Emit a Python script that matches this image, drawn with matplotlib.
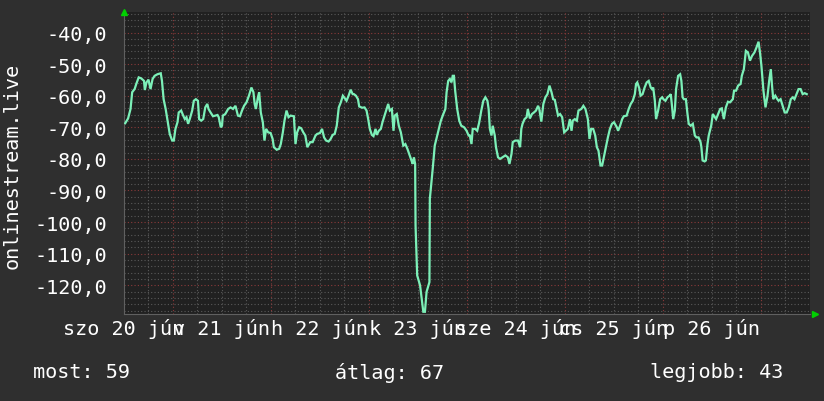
import matplotlib
matplotlib.use("Agg")
import matplotlib.pyplot as plt
import numpy as np

# ---- data (hours since Sat 20 Jun 00:00, value) ----
hours = [0.3, 1.0, 1.6, 2.0, 2.6, 3.0, 3.6, 4.2, 4.9, 5.1, 5.5, 6.0, 6.5, 7.0, 7.5, 8.2, 9.0, 9.3, 9.7, 10.2,
         10.8, 11.2, 11.8, 12.2, 12.6, 13.1, 13.4, 14.0, 14.5, 14.9, 15.3, 15.7, 16.1, 16.7, 17.1, 17.6, 18.1, 18.4, 18.9, 19.4,
         19.9, 20.4, 20.7, 21.2, 21.8, 22.4, 22.9, 23.2, 23.7, 24.0, 24.2, 24.8, 25.5, 26.1, 26.7, 27.3, 27.9, 28.4, 28.9, 29.4,
         30.0, 30.6, 31.2, 31.7, 32.0, 32.3, 32.8, 33.1, 33.5, 34.0, 34.4, 34.8, 35.3, 35.9, 36.4, 36.7, 37.4, 38.0, 38.4, 38.9,
         39.3, 39.8, 40.3, 40.8, 41.6, 42.0, 42.4, 42.9, 43.4, 43.9, 44.4, 44.9, 45.6, 46.2, 46.9, 47.3, 48.0, 48.5, 49.0, 49.5,
         50.1, 50.6, 51.1, 51.6, 52.1, 52.6, 53.1, 53.6, 53.9, 54.5, 55.0, 55.5, 56.0, 56.3, 56.8, 57.3, 57.6, 58.3, 58.9, 59.4,
         59.8, 60.2, 60.7, 61.1, 61.6, 61.9, 62.4, 62.9, 63.3, 63.8, 64.3, 64.7, 65.1, 65.6, 66.0, 66.3, 66.8, 67.3, 67.8, 68.4,
         68.9, 69.4, 69.9, 70.4, 70.7, 71.0, 71.3, 71.4, 71.8, 72.5, 72.9, 73.3, 73.7, 74.1, 74.8, 74.9, 75.6, 76.1, 76.9, 77.6,
         78.2, 78.7, 79.0, 79.4, 79.8, 80.2, 80.5, 80.8, 81.1, 81.6, 82.1, 82.6, 83.3, 83.9, 84.4, 84.7, 85.1, 85.4, 86.0, 86.5,
         87.0, 87.5, 88.0, 88.5, 89.0, 89.3, 89.6, 90.0, 90.3, 90.8, 91.1, 91.6, 92.1, 92.7, 93.4, 94.0, 94.4, 94.9, 95.2, 95.8,
         96.5, 97.0, 97.3, 97.6, 98.1, 98.6, 98.9, 99.4, 99.9, 100.4, 100.9, 101.4, 101.7, 102.2, 102.7, 103.2, 103.7, 104.2, 104.7, 105.1,
         105.5, 105.8, 106.3, 106.8, 107.3, 107.8, 108.2, 108.7, 109.2, 109.6, 109.9, 110.4, 110.9, 111.3, 112.0, 112.5, 113.0, 113.6, 114.0, 114.4,
         114.9, 115.4, 115.8, 116.2, 116.7, 117.1, 117.6, 118.0, 118.5, 119.0, 119.5, 120.0, 120.7, 121.0, 121.5, 122.0, 122.4, 123.1, 123.6, 124.1,
         124.6, 125.1, 125.4, 125.7, 126.2, 126.5, 127.0, 127.5, 128.0, 128.5, 129.0, 129.3, 129.6, 130.0, 130.3, 130.8, 131.3, 131.8, 132.1, 132.6,
         133.1, 133.6, 133.9, 134.2, 134.5, 134.9, 135.2, 135.7, 136.2, 136.5, 136.8, 137.1, 137.6, 138.0, 138.3, 138.8, 139.3, 139.8, 140.2, 140.7,
         141.2, 141.4, 141.7, 142.2, 142.5, 142.9, 143.2, 143.5, 143.8, 144.2, 144.7, 145.0, 145.5, 146.0, 146.4, 146.9, 147.4, 147.9, 148.4, 149.1,
         149.4, 149.9, 150.4, 151.0, 151.3, 151.8, 152.3, 152.8, 153.3, 153.8, 154.4, 154.9, 155.4, 155.8, 156.1, 156.6, 157.1, 157.6, 158.0, 158.4,
         158.7, 159.0, 159.5, 160.0, 160.3, 160.8, 161.3, 161.8, 162.3, 162.8, 163.3, 163.8, 164.2, 164.7, 165.2, 165.7, 166.2, 166.7, 167.2]

values = [-68.7, -67.2, -64.2, -58.9, -57.9, -56.3, -54.2, -54.5, -55.3, -58.2, -55.8, -54.9, -57.9, -54.7, -53.7, -53.2, -52.9, -55.3, -61.1, -64.2,
          -68.9, -72.1, -74.2, -74.2, -70.5, -68.4, -65.3, -64.7, -66.3, -67.4, -66.8, -68.9, -67.4, -64.7, -61.6, -61.1, -61.6, -67.4, -67.9, -67.4,
          -63.7, -62.6, -64.2, -65.3, -66.5, -66.3, -66.1, -66.8, -70.0, -69.5, -66.3, -65.8, -64.2, -63.7, -64.2, -63.2, -66.3, -66.5, -64.7, -63.2,
          -62.1, -60.0, -57.4, -58.9, -62.6, -64.2, -60.5, -58.9, -65.3, -68.4, -74.2, -70.5, -71.6, -71.8, -73.7, -76.3, -77.1, -76.8, -75.3, -71.6,
          -67.9, -64.7, -66.8, -66.3, -66.5, -75.3, -71.6, -70.0, -70.3, -71.6, -72.6, -76.3, -74.7, -74.7, -72.6, -72.1, -71.8, -70.5, -73.2, -74.2,
          -74.5, -73.7, -72.4, -72.1, -69.5, -63.7, -62.1, -60.0, -60.5, -61.6, -60.0, -58.1, -59.5, -59.5, -60.0, -61.1, -63.4, -63.8, -63.7, -64.7,
          -67.4, -70.5, -72.4, -72.8, -70.5, -72.4, -71.1, -70.5, -68.4, -66.3, -64.2, -62.6, -64.7, -64.2, -71.1, -66.3, -65.8, -69.5, -71.6, -75.8,
          -75.3, -76.8, -78.7, -80.5, -81.6, -79.5, -81.6, -101.1, -116.9, -120.0, -124.2, -128.4, -128.4, -122.1, -119.0, -92.6, -83.2, -75.8, -71.6, -67.9,
          -65.8, -64.2, -58.9, -55.3, -54.7, -55.8, -53.7, -53.7, -58.4, -64.2, -67.9, -69.5, -70.0, -71.1, -72.6, -72.6, -75.3, -70.5, -70.5, -71.1,
          -68.4, -64.7, -61.6, -60.5, -61.6, -64.2, -70.5, -72.6, -69.5, -72.6, -76.3, -79.5, -80.0, -79.5, -78.9, -79.5, -81.6, -78.4, -74.7, -74.2,
          -74.2, -76.3, -70.5, -68.9, -67.4, -66.8, -64.2, -67.2, -65.8, -65.3, -64.7, -63.2, -64.2, -68.2, -62.6, -60.5, -59.5, -56.8, -58.9, -61.1,
          -61.3, -63.2, -66.3, -65.8, -66.8, -71.6, -71.1, -70.5, -67.4, -71.1, -67.9, -67.4, -67.9, -64.7, -64.2, -63.2, -64.2, -67.4, -73.7, -70.5,
          -70.5, -72.6, -76.3, -77.4, -82.1, -82.1, -78.9, -76.3, -73.2, -70.5, -68.9, -68.4, -70.0, -71.1, -69.5, -67.4, -66.5, -66.3, -64.2, -62.6,
          -61.6, -59.5, -56.3, -55.8, -57.7, -60.0, -59.5, -57.4, -55.8, -55.3, -57.4, -57.9, -57.4, -61.6, -67.4, -64.7, -61.1, -60.5, -61.1, -61.6,
          -60.5, -60.0, -59.5, -63.2, -67.4, -64.7, -57.9, -53.7, -53.2, -55.3, -60.5, -61.1, -61.1, -65.8, -68.9, -69.5, -68.9, -72.6, -73.2, -73.2,
          -74.7, -76.3, -80.5, -80.8, -80.5, -75.3, -72.6, -71.1, -69.5, -65.8, -66.8, -67.4, -65.8, -64.2, -64.0, -67.4, -63.7, -61.9, -62.1, -61.1,
          -58.4, -58.4, -56.8, -56.3, -53.7, -51.6, -45.8, -46.3, -48.9, -47.4, -46.3, -44.7, -42.9, -46.8, -50.5, -58.4, -63.7, -60.0, -55.3, -51.6,
          -56.8, -61.1, -60.0, -61.1, -61.6, -61.1, -63.2, -65.3, -65.3, -63.7, -61.1, -60.5, -61.1, -59.5, -57.9, -57.9, -59.5, -59.2, -59.5]

label_hours = [0, 24, 48, 72, 96, 120, 144]
x_labels = ["szo 20 jún", "v 21 jún", "h 22 jún", "k 23 jún", "sze 24 jún", "cs 25 jún", "p 26 jún"]
y_major = [-120, -110, -100, -90, -80, -70, -60, -50, -40]
y_label = "onlinestream.live"
legend_items = [("most: 59", 33), ("átlag: 67", 335), ("legjobb: 43", 650)]

# ---- style ----
FIG_BG = "#2f2f2f"
AX_BG = "#212121"
MINOR = "#5a5a5a"
MAJOR = "#8a3a3a"
LINE = "#7cf0b8"
TXT = "#ffffff"
FONT = "DejaVu Sans Mono"
FS = 14.5

W, H = 824, 402
fig = plt.figure(figsize=(W / 100, H / 100), dpi=100, facecolor=FIG_BG)
L, R, T, B = 124, 810, 13, 315
ax = fig.add_axes([L / W, 1 - B / H, (R - L) / W, (B - T) / H], facecolor=AX_BG)

xmin, xmax = 0, 168
ymin, ymax = -129.1, -33.5
ax.set_xlim(xmin, xmax)
ax.set_ylim(ymin, ymax)

# grid
dash = (0, (1, 2))
for yv in np.arange(-128, -33, 2):
    if int(round(yv)) % 10 != 0:
        ax.axhline(yv, color=MINOR, lw=0.8, ls=dash, zorder=1)
for yv in y_major:
    ax.axhline(yv, color=MAJOR, lw=0.8, ls=dash, zorder=1)
for xv in np.arange(6, 168, 6):
    is_major = (xv - 12) % 24 == 0
    ax.axvline(xv, color=MAJOR if is_major else MINOR, lw=0.8, ls=dash, zorder=1)

ax.plot(hours, values, color=LINE, lw=1.6, zorder=3, solid_joinstyle="miter")

for s in ax.spines.values():
    s.set_visible(False)
ax.spines["left"].set_visible(True)
ax.spines["bottom"].set_visible(True)
ax.spines["left"].set_color("#606060")
ax.spines["bottom"].set_color("#606060")

ax.set_yticks(y_major)
ax.set_yticklabels([f"{v:.1f}".replace(".", ",") for v in y_major])
ax.set_xticks(label_hours)
ax.set_xticklabels(x_labels)
ax.tick_params(axis="y", length=0, pad=12, labelsize=FS, labelcolor=TXT)
ax.tick_params(axis="x", length=0, pad=3, labelsize=FS, labelcolor=TXT)
for lab in ax.get_xticklabels() + ax.get_yticklabels():
    lab.set_fontfamily(FONT)

# arrows
ax.plot([0], [ymax], marker="^", color="#00d000", ms=5, clip_on=False, zorder=5,
        transform=ax.transData)
ax.plot([xmax + 1.2], [ymin], marker=">", color="#00d000", ms=5, clip_on=False, zorder=5)

fig.text(12 / W, 1 - 166 / H, y_label, rotation=90, ha="center", va="center",
         color=TXT, fontsize=FS, family=FONT)
for txt, xp in legend_items:
    fig.text(xp / W, 1 - 373 / H, txt, ha="left", va="center", color=TXT,
             fontsize=FS, family=FONT)

fig.savefig("out.png", dpi=100, facecolor=FIG_BG)
